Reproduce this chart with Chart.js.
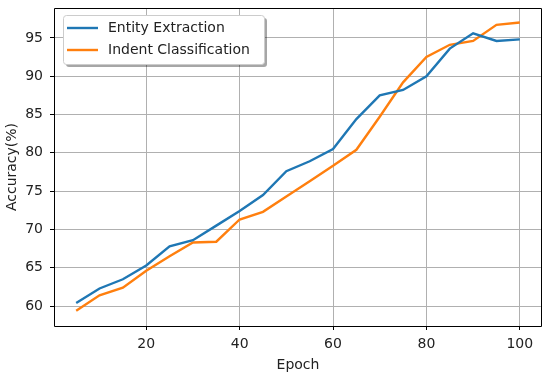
<!DOCTYPE html>
<html>
<head>
<meta charset="utf-8">
<script src="https://cdn.jsdelivr.net/npm/chart.js@4"></script>
<style>
  html, body { margin: 0; padding: 0; background: #fff; }
  #wrap { width: 550px; height: 375px; }
</style>
</head>
<body>
<div id="wrap"><canvas id="accChart"></canvas></div>
<script>
const epochs = [5, 10, 15, 20, 25, 30, 35, 40, 45, 50, 55, 60, 65, 70, 75, 80, 85, 90, 95, 100];
const entityAcc = [60.4, 62.3, 63.5, 65.3, 67.8, 68.6, 70.5, 72.4, 74.5, 77.6, 78.9, 80.5, 84.4, 87.5, 88.2, 90.0, 93.6, 95.6, 94.6, 94.8];
const indentAcc = [59.4, 61.4, 62.4, 64.6, 66.5, 68.3, 68.4, 71.3, 72.3, 74.3, 76.3, 78.3, 80.4, 84.7, 89.2, 92.5, 94.1, 94.6, 96.7, 97.0];
const xTicks = [20, 40, 60, 80, 100];
const yTicks = [60, 65, 70, 75, 80, 85, 90, 95];

const ctx = document.getElementById("accChart");
const FONT = "'DejaVu Sans', sans-serif";

const entity = {
    label: "Entity Extraction",
    data: epochs.map((e, i) => ({x: e, y: entityAcc[i]})),
    borderColor: '#1f77b4',
    backgroundColor: '#1f77b4',
    borderWidth: 2.4,
    pointRadius: 0,
    tension: 0,
    fill: false
};

const indent = {
    label: "Indent Classification",
    data: epochs.map((e, i) => ({x: e, y: indentAcc[i]})),
    borderColor: '#ff7f0e',
    backgroundColor: '#ff7f0e',
    borderWidth: 2.4,
    pointRadius: 0,
    tension: 0,
    fill: false
};

// plot frame + legend drawn like matplotlib
const frameLegend = {
    id: 'frameLegend',
    afterDraw(chart) {
        const c = chart.ctx;
        const a = chart.chartArea;
        const l = Math.round(a.left) + 0.5, r = Math.round(a.right) - 0.5;
        const t = Math.round(a.top) + 0.5, b = Math.round(a.bottom) + 0.5;
        c.save();
        c.strokeStyle = '#000';
        c.lineWidth = 1;
        c.beginPath();
        c.moveTo(l, t); c.lineTo(r, t); c.lineTo(r, b); c.lineTo(l, b); c.closePath();
        c.stroke();

        const x0 = a.left + 9, y0 = a.top + 7, w = 201, h = 49;
        const rr = (x, y) => { c.beginPath(); c.roundRect(x, y, w, h, 3); };
        c.fillStyle = 'rgba(0,0,0,0.35)';
        rr(x0 + 3, y0 + 3); c.fill();
        c.fillStyle = '#fff';
        c.strokeStyle = '#cccccc';
        rr(x0 + 0.5, y0 + 0.5); c.fill(); c.stroke();

        c.font = '14px ' + FONT;
        c.textBaseline = 'middle';
        chart.data.datasets.forEach((ds, i) => {
            const ly = y0 + 13 + i * 22;
            c.strokeStyle = ds.borderColor;
            c.lineWidth = 2.4;
            c.beginPath();
            c.moveTo(x0 + 4, ly);
            c.lineTo(x0 + 35, ly);
            c.stroke();
            c.fillStyle = '#222';
            c.fillText(ds.label, x0 + 45, ly);
        });
        c.restore();
    }
};

const config = {
    type: 'line',
    data: { datasets: [entity, indent] },
    plugins: [frameLegend],
    options: {
        responsive: true,
        maintainAspectRatio: false,
        animation: false,
        layout: { padding: { top: 8, right: 8, left: 0, bottom: 0 } },
        plugins: {
            legend: { display: false },
            tooltip: { enabled: false }
        },
        scales: {
            x: {
                type: 'linear',
                min: 0.25,
                max: 104.75,
                afterFit(s) { s.height = 49; s.paddingLeft = 0; s.paddingRight = 0; },
                afterBuildTicks(s) { s.ticks = xTicks.map(v => ({value: v})); },
                ticks: { font: { family: FONT, size: 14 }, color: '#222', padding: 6, maxRotation: 0 },
                grid: { color: '#b0b0b0', lineWidth: 1, tickColor: '#000', tickLength: 4 },
                border: { display: false },
                title: { display: true, text: 'Epoch', font: { family: FONT, size: 14 }, color: '#222', padding: { top: 0, bottom: 1 } }
            },
            y: {
                type: 'linear',
                min: 57.4,
                max: 98.9,
                afterFit(s) { s.width = 54; s.paddingTop = 0; s.paddingBottom = 0; },
                afterBuildTicks(s) { s.ticks = yTicks.map(v => ({value: v})); },
                ticks: { font: { family: FONT, size: 14 }, color: '#222', padding: 7 },
                grid: { color: '#b0b0b0', lineWidth: 1, tickColor: '#000', tickLength: 4 },
                border: { display: false },
                title: { display: true, text: 'Accuracy(%)', font: { family: FONT, size: 14 }, color: '#222', padding: { top: 4, bottom: 0 } }
            }
        }
    }
};

const accChart = new Chart(ctx, config);
</script>
</body>
</html>
